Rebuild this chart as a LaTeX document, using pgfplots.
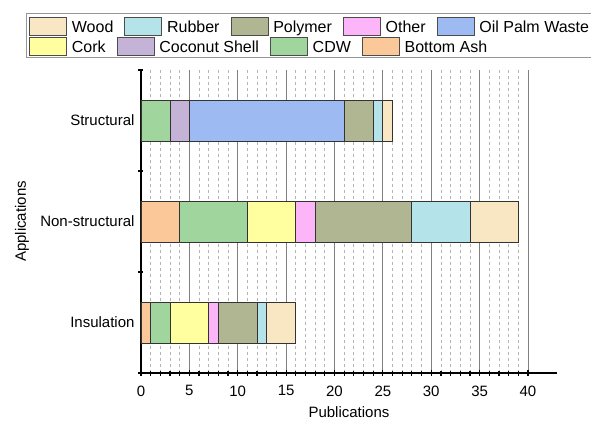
\documentclass[border=0pt]{standalone}
\usepackage{pgfplots}
\pgfplotsset{compat=1.18}
\usepackage{fontspec}
\setmainfont{Liberation Sans}
\definecolor{wood}{HTML}{F9E7C4}
\definecolor{rubber}{HTML}{B4E4EA}
\definecolor{polymer}{HTML}{B1B692}
\definecolor{other}{HTML}{FCB5F8}
\definecolor{opw}{HTML}{9DBBF2}
\definecolor{cork}{HTML}{FFFFA0}
\definecolor{coconut}{HTML}{C4B3D7}
\definecolor{cdw}{HTML}{A0D69D}
\definecolor{bash}{HTML}{FBC899}
\definecolor{framegray}{RGB}{150,150,150}
\pgfplotsset{
  legax/.style={at={(0,0)}, anchor=south west, scale only axis, width=416pt, height=303pt,
    hide axis, xmin=0, xmax=1, ymin=0, ymax=1,
    legend cell align=left,
    legend image code/.code={\draw[##1] (0pt,-9pt) rectangle (37pt,9pt);},
    legend style={anchor=north west, draw=none, fill=none, inner sep=0pt,
      font=\fontsize{16}{19}\selectfont,
      nodes={inner sep=0pt, text height=11.6pt, text depth=0pt},
      /tikz/every odd column/.style={column sep=5pt},
      /tikz/every even column/.style={column sep=11pt}}},
  legimg/.style={fill=#1, draw=black!70, line width=0.7pt}
}
\begin{document}
\begin{tikzpicture}
\begin{axis}[
  at={(0,0)}, anchor=south west,
  scale only axis, width=416pt, height=303pt,
  xbar stacked, bar width=41pt,
  xmin=0, xmax=43, ymin=-0.5, ymax=2.5,
  axis lines=left, axis line style={-, line width=1.6pt, black},
  xtick={0,5,...,40}, minor x tick num=4,
  ytick={0,1,2}, yticklabels={Insulation,Non-structural,Structural},
  minor ytick={-0.5,0.5,1.5,2.5},
  tick align=center,
  major tick length=6pt, minor tick length=5pt,
  tick style={black, line width=1.2pt},
  major y tick style={draw=none},
  xmajorgrids, xminorgrids,
  major grid style={solid, color={rgb,255:red,128;green,128;blue,128}, line width=0.8pt},
  minor grid style={dashed, color={rgb,255:red,180;green,180;blue,180}, line width=0.8pt},
  /pgf/number format/assume math mode=true,
  tick label style={font=\fontsize{15}{18}\selectfont},
  xticklabel style={yshift=-6pt},
  xlabel={Publications}, ylabel={Applications},
  label style={font=\fontsize{15}{18}\selectfont},
  xlabel style={at={(axis description cs:0.5,-0.129)}, anchor=center},
  ylabel style={at={(axis description cs:-0.286,0.5)}, anchor=center},
  every axis plot/.append style={draw=black!80, line width=0.8pt},
  clip=false,
]
\addplot[fill=bash]    coordinates {(1,0) (4,1) (0,2)};
\addplot[fill=cdw]     coordinates {(2,0) (7,1) (3,2)};
\addplot[fill=coconut] coordinates {(0,0) (0,1) (2,2)};
\addplot[fill=cork]    coordinates {(4,0) (5,1) (0,2)};
\addplot[fill=opw]     coordinates {(0,0) (0,1) (16,2)};
\addplot[fill=other]   coordinates {(1,0) (2,1) (0,2)};
\addplot[fill=polymer] coordinates {(4,0) (10,1) (3,2)};
\addplot[fill=rubber]  coordinates {(1,0) (6,1) (1,2)};
\addplot[fill=wood]    coordinates {(3,0) (5,1) (1,2)};
\end{axis}
\begin{axis}[legax, legend columns=5, legend style={at={(axis description cs:-0.26923,1.17492)}}]
\addlegendimage{legimg=wood}\addlegendentry{Wood}
\addlegendimage{legimg=rubber}\addlegendentry{Rubber}
\addlegendimage{legimg=polymer}\addlegendentry{Polymer}
\addlegendimage{legimg=other}\addlegendentry{Other}
\addlegendimage{legimg=opw}\addlegendentry{Oil Palm Waste}
\end{axis}
\begin{axis}[legax, legend columns=4, legend style={at={(axis description cs:-0.26923,1.10891)}}]
\addlegendimage{legimg=cork}\addlegendentry{Cork}
\addlegendimage{legimg=coconut}\addlegendentry{Coconut Shell}
\addlegendimage{legimg=cdw}\addlegendentry{CDW}
\addlegendimage{legimg=bash}\addlegendentry{Bottom Ash}
\end{axis}
\draw[framegray, line width=0.8pt] (-115pt,316pt) rectangle (470pt,360pt);
\pgfresetboundingbox
\useasboundingbox (-141pt,-48pt) rectangle (450pt,373pt);
\end{tikzpicture}
\end{document}
